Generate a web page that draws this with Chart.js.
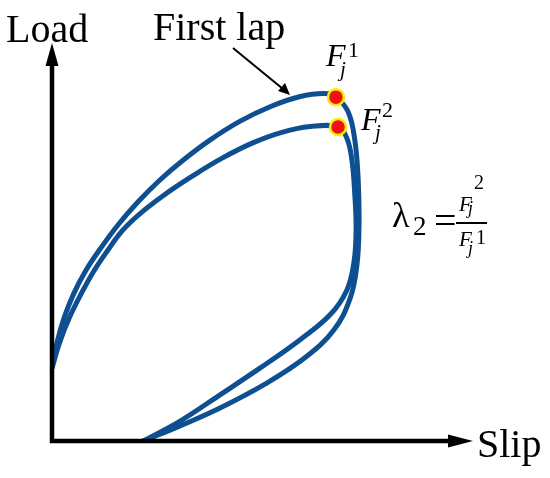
<!DOCTYPE html>
<html>
<head>
<meta charset="utf-8">
<title>Load - Slip laps</title>
<script src="https://cdn.jsdelivr.net/npm/chart.js@4.4.1/dist/chart.umd.min.js"></script>
<style>
  html, body { margin: 0; padding: 0; background: #fff; }
  #wrap { width: 550px; height: 478px; }
</style>
</head>
<body>
<div id="wrap"><canvas id="lapChart" width="550" height="478"></canvas></div>
<script>
// First lap: slip / load (in % of the axis length)
const lap1Slip = [0, 1.2, 2.9, 5.2, 8.1, 11.5, 15.8, 20.5, 25.5, 30.9, 37.6, 44.7, 52.2, 58.9, 64.9, 67.6,
  70.5, 72.1, 72.9, 73.1, 72.6, 71.0, 67.1, 60.2, 50.7, 40.0, 30.5, 21.7];
const lap1Load = [18.3, 24.7, 31.0, 37.1, 42.9, 48.3, 54.4, 60.1, 65.4, 70.3, 75.6, 80.3, 84.1, 86.5, 87.3, 86.4,
  82.7, 75.6, 65.6, 54.3, 44.2, 35.9, 27.9, 20.9, 14.3, 8.3, 3.8, 0];

// Second lap
const lap2Slip = [0, 1.8, 4.1, 6.9, 9.9, 13.2, 16.7, 20.7, 26.3, 33.2, 40.4, 47.8, 54.5, 61.5, 68.1,
  70.2, 71.4, 72.1, 72.4, 71.9, 70.2, 66.2, 59.0, 49.5, 40.0, 30.5, 21.7];
const lap2Load = [18.3, 24.7, 30.9, 36.9, 42.6, 47.8, 52.8, 56.9, 61.5, 66.4, 71.0, 74.9, 77.5, 79.0, 78.9,
  76.1, 70.6, 61.8, 53.0, 45.0, 37.9, 31.7, 25.4, 18.3, 11.6, 5.0, 0];

// Peak loads F_j^1 and F_j^2
const peakSlip = [67.6, 68.1];
const peakLoad = [86.4, 78.9];

const toPoints = (xs, ys) => xs.map((v, i) => ({ x: v, y: ys[i] }));

const curveBlue = "#0d4f91";
const serif = "'Liberation Serif', 'Times New Roman', serif";

// Axes with arrow heads plus the text labels
const sketchPlugin = {
  id: "sketch",
  afterDatasetsDraw(chart) {
    const ctx = chart.ctx;
    const xs = chart.scales.x;
    const ys = chart.scales.y;
    const x0 = xs.getPixelForValue(0);
    const y0 = ys.getPixelForValue(0);
    const xEnd = xs.getPixelForValue(xs.max);
    const yEnd = ys.getPixelForValue(ys.max);

    ctx.save();
    ctx.strokeStyle = "#000";
    ctx.fillStyle = "#000";
    ctx.lineWidth = 4.5;
    ctx.lineJoin = "miter";
    ctx.beginPath();
    ctx.moveTo(x0, yEnd + 20);
    ctx.lineTo(x0, y0);
    ctx.lineTo(xEnd - 22, y0);
    ctx.stroke();

    // arrow heads
    ctx.beginPath();
    ctx.moveTo(x0, yEnd);
    ctx.lineTo(x0 - 6.5, yEnd + 23);
    ctx.lineTo(x0 + 6.5, yEnd + 23);
    ctx.closePath();
    ctx.fill();
    ctx.beginPath();
    ctx.moveTo(xEnd + 1, y0);
    ctx.lineTo(xEnd - 24, y0 - 6.5);
    ctx.lineTo(xEnd - 24, y0 + 6.5);
    ctx.closePath();
    ctx.fill();

    // axis titles
    ctx.textBaseline = "alphabetic";
    ctx.textAlign = "left";
    ctx.font = "40px " + serif;
    ctx.fillText("Load", 6, 42);
    ctx.fillText("Slip", xEnd + 5, y0 + 16);
    ctx.fillText("First lap", 153, 40);

    // pointer to the first lap
    ctx.lineWidth = 2;
    ctx.beginPath();
    ctx.moveTo(233, 48);
    ctx.lineTo(283, 89);
    ctx.stroke();
    ctx.beginPath();
    ctx.moveTo(290, 95);
    ctx.lineTo(278, 91);
    ctx.lineTo(285, 83);
    ctx.closePath();
    ctx.fill();

    // F with subscript j and a superscript lap number
    const label = (left, base, sup, fSize, supSize, jSize, jDx, jDy, supDx, supDy) => {
      ctx.font = "italic " + fSize + "px " + serif;
      ctx.fillText("F", left, base);
      ctx.font = "italic " + jSize + "px " + serif;
      ctx.fillText("j", left + jDx, base + jDy);
      ctx.font = supSize + "px " + serif;
      ctx.fillText(sup, left + supDx, base + supDy);
    };
    label(326, 66, "1", 32, 22, 21, 14, 10, 22, -9);
    label(361, 130, "2", 32, 22, 21, 14, 9, 21, -13);

    // lambda_2 = F_j^2 / F_j^1
    ctx.font = "36px " + serif;
    ctx.fillText("\u03bb", 392, 227);
    ctx.font = "27px " + serif;
    ctx.fillText("2", 413, 235);
    ctx.font = "40px " + serif;
    ctx.fillText("=", 434, 234);
    ctx.lineWidth = 2;
    ctx.beginPath();
    ctx.moveTo(456, 223);
    ctx.lineTo(487, 223);
    ctx.stroke();
    label(459, 211, "2", 21, 20, 18, 9, 3, 15, -22);
    label(459, 246, "1", 21, 20, 18, 9, 8, 17, -2);
    ctx.restore();
  },
};

document.addEventListener("DOMContentLoaded", function () {
  const ctx = document.getElementById("lapChart").getContext("2d");
  new Chart(ctx, {
    type: "scatter",
    data: {
      datasets: [
        {
          label: "Peaks",
          data: toPoints(peakSlip, peakLoad),
          pointRadius: 8,
          pointBackgroundColor: "#ee1111",
          pointBorderColor: "#f5ee00",
          pointBorderWidth: 2.5,
          order: 0,
        },
        {
          label: "First lap",
          type: "line",
          data: toPoints(lap1Slip, lap1Load),
          borderColor: curveBlue,
          borderWidth: 5,
          pointRadius: 0,
          tension: 0.4,
          fill: false,
          order: 1,
        },
        {
          label: "Second lap",
          type: "line",
          data: toPoints(lap2Slip, lap2Load),
          borderColor: curveBlue,
          borderWidth: 5,
          pointRadius: 0,
          tension: 0.4,
          fill: false,
          order: 1,
        },
      ],
    },
    options: {
      responsive: false,
      animation: false,
      layout: { padding: { left: 52, right: 78, top: 43, bottom: 37 } },
      plugins: {
        legend: { display: false },
        tooltip: { enabled: false },
      },
      scales: {
        x: { type: "linear", min: 0, max: 100, display: false },
        y: { type: "linear", min: 0, max: 100, display: false },
      },
    },
    plugins: [sketchPlugin],
  });
});
</script>
</body>
</html>
